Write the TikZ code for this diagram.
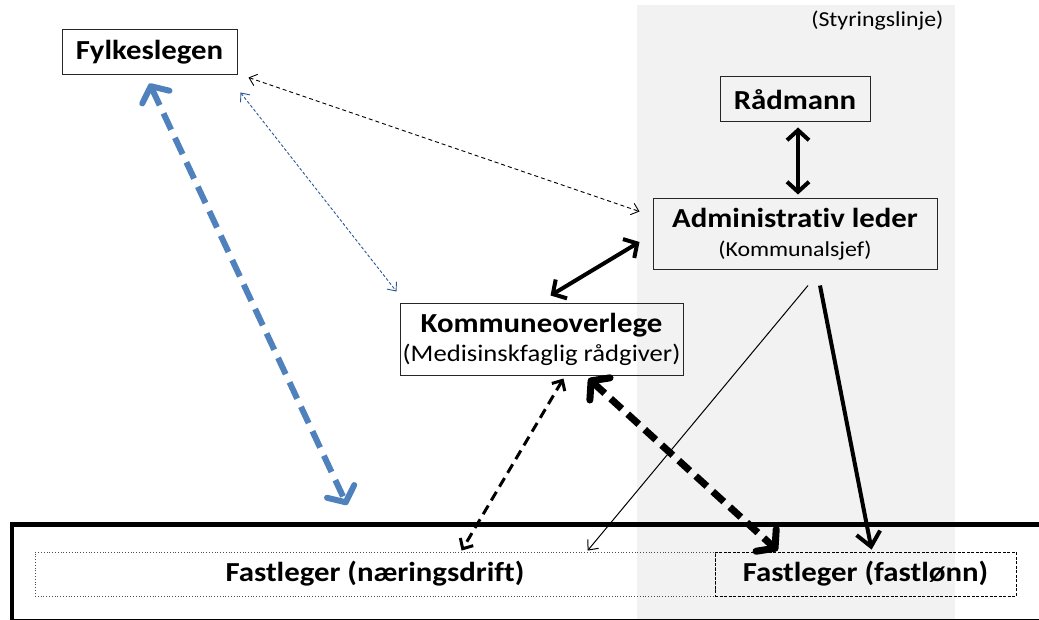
\documentclass[tikz,border=0pt]{standalone}
\usepackage{fontspec}
\setmainfont{Carlito}[FakeStretch=1.12,Ligatures=CommonOff]
\usetikzlibrary{arrows.meta,calc}
\definecolor{band}{HTML}{F2F2F2}
\definecolor{bluedash}{HTML}{4F81BD}
\definecolor{bluethin}{HTML}{2B5797}
\newcommand{\ttlfont}{\fontsize{27.5}{29}\selectfont\bfseries}
\newcommand{\subfontA}{\fontsize{21.3}{29}\selectfont\mdseries}
\newcommand{\subfontB}{\fontsize{23.8}{28}\selectfont\mdseries}
\tikzset{
  thinhead/.tip={Straight Barb[length=7pt,width=12pt]},
  bighead/.tip={Straight Barb[length=12pt,width=30pt,round]},
  midhead/.tip={Straight Barb[length=10pt,width=22pt]},
  medhead/.tip={Straight Barb[length=8pt,width=15pt]},
  onehead/.tip={Straight Barb[length=8pt,width=14pt]},
  thickhead/.tip={Straight Barb[length=14pt,width=24pt]}
}
\begin{document}
\begin{tikzpicture}[x=1pt,y=-1pt,
  box/.style={draw=black!85, line width=1pt, inner sep=0pt, align=center},
  thindash/.style={line width=0.9pt, dash pattern=on 4pt off 3pt, thinhead-thinhead},
  bluedotted/.style={bluethin, line width=0.9pt, dash pattern=on 3pt off 2pt, thinhead-thinhead},
  bluethick/.style={bluedash, line width=6pt, dash pattern=on 18pt off 9pt, bighead-bighead},
  solidtwo/.style={line width=4pt, midhead-midhead},
  meddash/.style={line width=3pt, dash pattern=on 10pt off 6pt, medhead-medhead},
  bigdash/.style={line width=7pt, dash pattern=on 15pt off 8pt, bighead-bighead},
  thinsolid/.style={line width=1pt, -onehead},
  thicksolid/.style={line width=4pt, -thickhead}
]
\useasboundingbox (0,0) rectangle (1039,620);
\clip (0,0) rectangle (1039,620);
% grey band
\fill[band] (637,5) rectangle (955,620);
\node[anchor=east, font=\subfontA] (styr) at (947,21) {(Styringslinje)};
% frame at the bottom
\draw[line width=4.5pt] (12,524.5) rectangle (1050,621.5);
% boxes
\node[box, minimum width=175pt, minimum height=45pt, font=\ttlfont] (fyl) at (149.5,52.5) {Fylkeslegen};
\node[box, minimum width=150pt, minimum height=45pt, font=\ttlfont] (rad) at (795,99.5) {Rådmann};
\node[box, minimum width=284pt, minimum height=71pt, font=\ttlfont] (adm) at (795,234.5)
  {Administrativ leder\\{\subfontA (Kommunalsjef)}};
\node[box, minimum width=283pt, minimum height=71pt, font=\ttlfont] (kom) at (541.5,339.5)
  {Kommuneoverlege\\{\subfontB (Medisinskfaglig rådgiver)}};
\node[draw=black!70, line width=0.8pt, dotted, minimum width=680pt, minimum height=44pt, inner sep=0pt, font=\ttlfont] (fnd) at (375,574) {Fastleger (næringsdrift)};
\node[draw=black, line width=0.8pt, dash pattern=on 3pt off 1.5pt, minimum width=301pt, minimum height=44pt, inner sep=0pt, font=\ttlfont] (ffl) at (865.5,574) {Fastleger (fastlønn)};
\coordinate (bluefree) at (347,505);
% connectors
\draw[bluethick] ($(fyl.south)+(0,8)$) -- (bluefree);
\draw[thindash] ($(fyl.south east)+(11,2)$) -- ($(adm.north west)+(-13,13)$);
\draw[bluedotted] ($(fyl.south east)+(3,17)$) -- ($(kom.north west)+(-3,-12)$);
\draw[solidtwo] ($(kom.north)+(9,-8)$) -- ($(adm.west)+(-13,7.5)$);
\draw[solidtwo] ($(rad.south)+(3,5)$) -- ($(adm.north)+(3,-4)$);
\draw[meddash] ($(kom.south)+(22,3)$) -- ($(fnd.north west)+(427,-1)$);
\draw[bigdash] ($(kom.south)+(47,3)$) -- ($(ffl.north west)+(63,-1)$);
\draw[thinsolid] ($(adm.south)+(13,15)$) -- ($(fnd.north west)+(553,-1)$);
\draw[thicksolid] ($(adm.south)+(25,15)$) -- ($(ffl.north west)+(157,-2)$);
\end{tikzpicture}
\end{document}
